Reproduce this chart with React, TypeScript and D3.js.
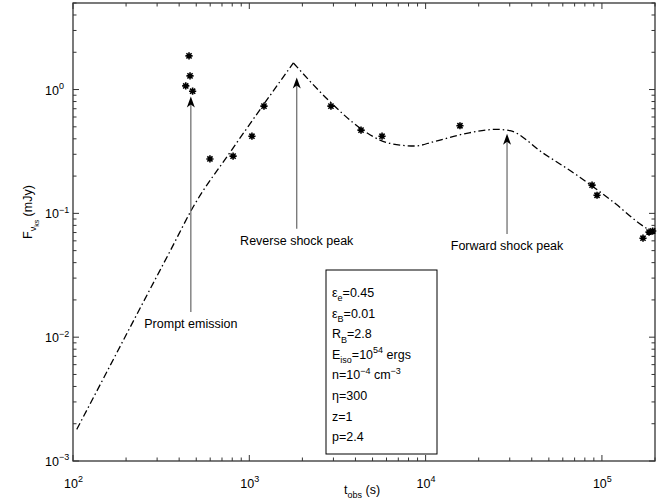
import React from "react";
import * as d3 from "d3";

// observed points (t in s, flux in mJy)
const obsTime = [455, 461, 436, 477, 598, 809, 1035, 1211, 2904, 4301, 5660, 15660, 87900, 93800, 171000, 185000, 194000];
const obsFlux = [1.87, 1.29, 1.07, 0.97, 0.275, 0.29, 0.42, 0.735, 0.735, 0.47, 0.42, 0.51, 0.169, 0.14, 0.063, 0.0706, 0.072];

// model light curve, rising part up to the reverse shock peak
const riseTime = [105, 149, 202, 274, 355, 481, 794, 1200, 1778];
const riseFlux = [0.0018, 0.00466, 0.0107, 0.0245, 0.0494, 0.113, 0.324, 0.75, 1.64];

// model light curve after the reverse shock peak
const decayTime = [1778, 2871, 4246, 5508, 7161, 8710, 11015, 17100, 25290, 30130, 46350, 71940, 115600, 179500, 195000];
const decayFlux = [1.64, 0.796, 0.489, 0.391, 0.356, 0.35, 0.378, 0.443, 0.477, 0.465, 0.307, 0.204, 0.124, 0.0757, 0.071];

const arrows = [
  { t: 466, tip: 0.88, base: 0.016, label: "Prompt emission" },
  { t: 1858, tip: 1.25, base: 0.075, label: "Reverse shock peak" },
  { t: 28960, tip: 0.44, base: 0.068, label: "Forward shock peak" },
];

const xTicks = [1e2, 1e3, 1e4, 1e5];
const yTicks = [1e-3, 1e-2, 1e-1, 1e0];

type Part = [string, number];
const params: Part[][] = [
  [["ε", 0], ["e", -1], ["=0.45", 0]],
  [["ε", 0], ["B", -1], ["=0.01", 0]],
  [["R", 0], ["B", -1], ["=2.8", 0]],
  [["E", 0], ["iso", -1], ["=10", 0], ["54", 1], [" ergs", 0]],
  [["n=10", 0], ["−4", 1], [" cm", 0], ["−3", 1]],
  [["η=300", 0]],
  [["z=1", 0]],
  [["p=2.4", 0]],
];

const W = 663, H = 503;
const m = { left: 73, right: 655, top: 3, bottom: 461 };
const font = "'Liberation Sans', Arial, Helvetica, sans-serif";

function rich(parts: Part[], size: number) {
  let cur = 0;
  return parts.map(([s, lvl], i) => {
    const shift = lvl === 0 ? 0 : lvl > 0 ? -size * 0.45 : size * 0.35;
    const dy = shift - cur;
    cur = shift;
    return (
      <tspan key={i} dy={dy} fontSize={lvl === 0 ? size : size * 0.72}>
        {s}
      </tspan>
    );
  });
}

function star(x: number, y: number, r: number) {
  const d = r * 0.72;
  return `M${x - r},${y}L${x + r},${y}M${x},${y - r}L${x},${y + r}M${x - d},${y - d}L${x + d},${y + d}M${x - d},${y + d}L${x + d},${y - d}`;
}

export default function App() {
  const x = d3.scaleLog().domain([1e2, 2e5]).range([m.left, m.right]);
  const y = d3.scaleLog().domain([1e-3, 5]).range([m.bottom, m.top]);

  const rise = d3.line<number>().x((d) => x(riseTime[d])).y((d) => y(riseFlux[d])).curve(d3.curveMonotoneX);
  const decay = d3.line<number>().x((d) => x(decayTime[d])).y((d) => y(decayFlux[d])).curve(d3.curveMonotoneX);

  const minorX: number[] = [];
  for (let e = 2; e <= 5; e++) for (let k = 2; k <= 9; k++) { const v = k * 10 ** e; if (v <= 2e5) minorX.push(v); }
  const minorY: number[] = [];
  for (let e = -3; e <= 0; e++) for (let k = 2; k <= 9; k++) { const v = k * 10 ** e; if (v <= 5) minorY.push(v); }

  const ax = "#333";
  return (
    <svg width={W} height={H} style={{ position: "absolute", left: 0, top: 0, background: "#fff" }} fontFamily={font}>
      {/* ticks */}
      <g stroke={ax} strokeWidth={1}>
        {minorX.map((v) => (
          <g key={"mx" + v}>
            <line x1={x(v)} x2={x(v)} y1={m.bottom} y2={m.bottom - 3.5} />
            <line x1={x(v)} x2={x(v)} y1={m.top} y2={m.top + 3.5} />
          </g>
        ))}
        {xTicks.map((v) => (
          <g key={"Mx" + v}>
            <line x1={x(v)} x2={x(v)} y1={m.bottom} y2={m.bottom - 6} />
            <line x1={x(v)} x2={x(v)} y1={m.top} y2={m.top + 6} />
          </g>
        ))}
        {minorY.map((v) => (
          <g key={"my" + v}>
            <line x1={m.left} x2={m.left + 3.5} y1={y(v)} y2={y(v)} />
            <line x1={m.right} x2={m.right - 3.5} y1={y(v)} y2={y(v)} />
          </g>
        ))}
        {yTicks.map((v) => (
          <g key={"My" + v}>
            <line x1={m.left} x2={m.left + 6} y1={y(v)} y2={y(v)} />
            <line x1={m.right} x2={m.right - 6} y1={y(v)} y2={y(v)} />
          </g>
        ))}
      </g>
      <rect x={m.left} y={m.top} width={m.right - m.left} height={m.bottom - m.top} fill="none" stroke={ax} strokeWidth={1.3} />

      {/* tick labels */}
      {xTicks.map((v) => (
        <text key={"lx" + v} x={x(v) - 9} y={m.bottom + 27} fontSize={12.5} fill="#000">
          {rich([["10", 0], [String(Math.round(Math.log10(v))), 1]], 12.5)}
        </text>
      ))}
      {yTicks.map((v) => (
        <text key={"ly" + v} x={m.left - 28} y={y(v) + 5} fontSize={12.5} fill="#000">
          {rich([["10", 0], [String(Math.round(Math.log10(v))).replace("-", "−"), 1]], 12.5)}
        </text>
      ))}

      {/* axis labels */}
      <text x={(m.left + m.right) / 2 - 20} y={494} fontSize={12.5}>
        {rich([["t", 0], ["obs", -1], [" (s)", 0]], 12.5)}
      </text>
      <text transform={`translate(32,${y(0.2) + 36}) rotate(-90)`} fontSize={12.5} textAnchor="middle">
        <tspan>F</tspan>
        <tspan dy={4} fontSize={9}>ν</tspan>
        <tspan dy={3} fontSize={7}>ks</tspan>
        <tspan dy={-7} fontSize={12.5}>{"    (mJy)"}</tspan>
      </text>

      {/* model curve */}
      <g fill="none" stroke="#000" strokeWidth={1.3} strokeDasharray="7,3,1.5,3">
        <path d={rise(d3.range(riseTime.length)) ?? ""} />
        <path d={decay(d3.range(decayTime.length)) ?? ""} />
      </g>

      {/* arrows and labels */}
      {arrows.map((a) => {
        const ax0 = x(a.t), tip = y(a.tip), base = y(a.base);
        return (
          <g key={a.label}>
            <line x1={ax0} x2={ax0} y1={base} y2={tip + 6} stroke="#666" strokeWidth={1.2} />
            <path d={`M${ax0},${tip}L${ax0 - 4},${tip + 11}L${ax0},${tip + 8}L${ax0 + 4},${tip + 11}Z`} fill="#000" />
            <text x={ax0} y={base + 16} fontSize={12.5} textAnchor="middle">{a.label}</text>
          </g>
        );
      })}

      {/* data points */}
      <g stroke="#000" strokeWidth={1.6} fill="none">
        {obsTime.map((t, i) => (
          <path key={i} d={star(x(t), y(obsFlux[i]), 3.6)} />
        ))}
      </g>

      {/* parameter box */}
      <rect x={326} y={270} width={111} height={184} fill="#fff" stroke="#000" strokeWidth={1} />
      {params.map((p, i) => (
        <text key={i} x={332} y={297 + i * 20.6} fontSize={12.5}>
          {rich(p, 12.5)}
        </text>
      ))}
    </svg>
  );
}
